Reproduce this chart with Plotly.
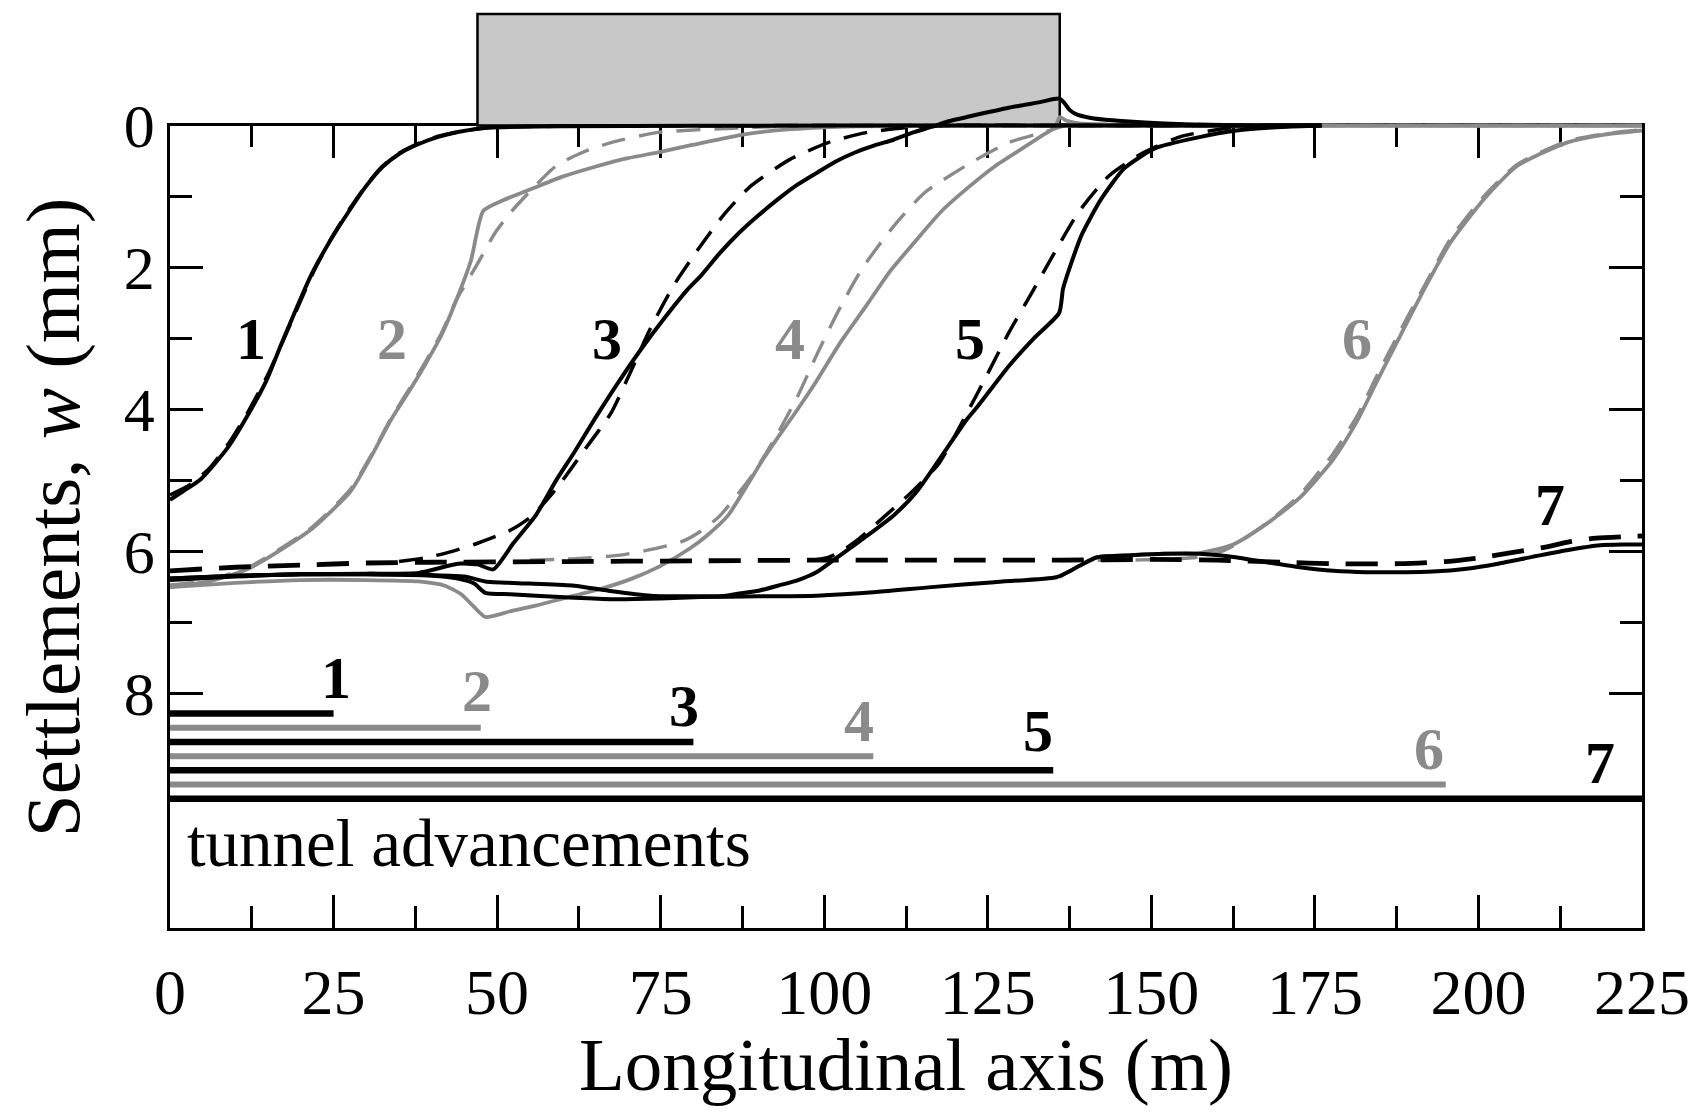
import plotly.graph_objects as go

# ---------------- data: x = longitudinal axis (m), w = settlement (mm) ----------------
C1_SOLID_X = [0, 2, 4.7, 8.8, 11.5, 14.7, 17.1, 21.5, 24.5, 27.4, 30, 32.5, 35, 38, 41, 44, 48.5, 60, 100, 140, 176]
C1_SOLID_W = [5.27, 5.15, 4.98, 4.54, 4.14, 3.6, 3.06, 2.12, 1.62, 1.2, 0.85, 0.58, 0.4, 0.26, 0.16, 0.09, 0.03,
              0.01, 0, 0, 0]
C1_DASH_X = [0, 3, 6, 9, 12, 15, 18, 22, 24.7, 27.4, 30, 32.5, 35, 38, 41, 44, 48.5, 60, 100, 140, 176]
C1_DASH_W = [5.2, 5.06, 4.83, 4.47, 4.02, 3.5, 2.88, 2.05, 1.58, 1.18, 0.84, 0.57, 0.39, 0.25, 0.15, 0.09, 0.03,
             0.01, 0, 0, 0]

C2_SOLID_X = [0, 6, 12, 16.5, 21.8, 27.6, 31, 33.8, 36.5, 39.1, 41.5, 43.8, 46, 47.9, 51, 55.6, 60, 65, 70,
              75, 80, 88, 95, 105, 140, 180, 225]
C2_SOLID_W = [6.5, 6.42, 6.24, 6.0, 5.67, 5.15, 4.62, 4.14, 3.75, 3.35, 2.95, 2.45, 1.9, 1.2, 1.05, 0.88, 0.72,
              0.58, 0.46, 0.37, 0.27, 0.12, 0.05, 0.01, 0, 0, 0]
C2_DASH_X = [0, 6, 12, 16.5, 21.8, 27.6, 31, 33.8, 36.5, 39.1, 41.5, 43.8, 46.8, 49.7, 52, 55.5, 59, 63, 67.4,
             74.4, 88, 100, 140, 180, 225]
C2_DASH_W = [6.47, 6.4, 6.22, 5.98, 5.65, 5.12, 4.6, 4.12, 3.72, 3.32, 2.92, 2.45, 1.98, 1.51, 1.23, 0.88, 0.57,
             0.38, 0.24, 0.1, 0.03, 0.0, 0, 0, 0]

C3_SOLID_X = [0, 10, 20, 30, 38, 44, 47, 49.4, 52.5, 55.9, 59, 61.8, 65, 68.5, 72, 75.5, 79.1, 81.1, 84, 87, 90,
              92.9, 95.8, 98.8, 101.7, 104.7, 107.7, 110.6, 113.5, 116.4, 119, 122.3, 128.2, 133, 135.9, 136.7,
              137.5, 138.5, 140, 143, 146, 152, 158, 165, 176]
C3_SOLID_W = [6.38, 6.34, 6.32, 6.31, 6.3, 6.17, 6.18, 6.25, 5.88, 5.49, 5.0, 4.6, 4.12, 3.62, 3.15, 2.72, 2.31,
              2.12, 1.8, 1.51, 1.26, 1.04, 0.84, 0.67, 0.51, 0.38, 0.28, 0.2, 0.1, 0.02, -0.06, -0.13, -0.25,
              -0.33, -0.38, -0.32, -0.22, -0.16, -0.12, -0.08, -0.06, -0.03, -0.01, 0, 0]
C3_DASH_X = [35, 39.4, 43, 46.5, 52, 55.3, 59, 63.5, 67.4, 70.5, 73.2, 77, 80.9, 84.7, 88.8, 94.7, 100.6, 106.4,
             112.3, 118, 140, 176]
C3_DASH_W = [6.14, 6.08, 6.0, 5.9, 5.7, 5.5, 5.12, 4.55, 4.05, 3.45, 2.9, 2.25, 1.72, 1.25, 0.85, 0.48, 0.24,
             0.1, 0.03, 0, 0, 0]

C4_SOLID_X = [0, 10, 20, 30, 38, 42, 44.5, 46.5, 48.2, 52, 55.9, 61.8, 66, 70.6, 75, 79.4, 82, 85.3, 88, 90.5,
              93, 95.3, 98.8, 102.5, 106.4, 110, 114.1, 118, 122.3, 126, 130, 133, 135.3, 136, 137, 139, 145,
              155, 180, 225]
C4_SOLID_W = [6.5, 6.44, 6.4, 6.4, 6.42, 6.48, 6.6, 6.78, 6.92, 6.84, 6.76, 6.62, 6.52, 6.38, 6.2, 5.96, 5.78,
              5.49, 5.1, 4.72, 4.38, 4.08, 3.6, 3.05, 2.54, 2.06, 1.61, 1.2, 0.85, 0.58, 0.34, 0.16, 0.02, -0.12,
              -0.07, -0.03, -0.01, 0, 0, 0]
C4_DASH_X = [55, 62, 68.8, 73, 78.2, 81, 84, 88.8, 92.5, 96, 99, 102.5, 105.9, 110.6, 115.3, 122.3, 128.2,
             134.1, 137, 180, 225]
C4_DASH_W = [6.12, 6.1, 6.05, 5.98, 5.86, 5.72, 5.5, 4.95, 4.4, 3.8, 3.2, 2.55, 2.0, 1.42, 0.95, 0.53, 0.24,
             0.08, 0, 0, 0]

C5_SOLID_X = [0, 10, 20, 30, 40, 45, 48.2, 55, 61.8, 67, 73.5, 80, 85, 87, 90, 92.9, 96, 98.8, 101.7, 105.9,
              110.6, 114.1, 118.8, 121.7, 123.5, 128.2, 132, 135.9, 136.5, 137.6, 139.4, 142.3, 145.9, 150.6,
              157, 163, 170, 176]
C5_SOLID_W = [6.38, 6.34, 6.32, 6.32, 6.33, 6.35, 6.42, 6.45, 6.48, 6.55, 6.62, 6.63, 6.62, 6.59, 6.55, 6.48,
              6.4, 6.29, 6.1, 5.82, 5.49, 5.16, 4.54, 4.15, 3.95, 3.39, 3.0, 2.64, 2.3, 1.98, 1.53, 1.04, 0.6,
              0.32, 0.17, 0.07, 0.02, 0]
C5_DASH_X = [98, 100.6, 102.5, 105.3, 109.4, 113.5, 117.6, 121.7, 124.5, 128.2, 131.7, 135.2, 138.8, 143.5,
             148.8, 154.7, 162.3, 170, 176]
C5_DASH_W = [6.12, 6.08, 6.0, 5.82, 5.49, 5.15, 4.75, 4.07, 3.58, 2.92, 2.36, 1.79, 1.23, 0.71, 0.38, 0.15,
             0.03, 0, 0]

C6_SOLID_X = [136, 137, 139, 141.7, 147, 152, 157.4, 162.5, 167.6, 172.7, 177.8, 181.4, 184.5, 188.1, 192.2,
              195.7, 200.8, 205.9, 213.5, 219, 225]
C6_SOLID_W = [6.36, 6.3, 6.2, 6.08, 6.05, 6.03, 6.02, 5.9, 5.61, 5.24, 4.7, 4.17, 3.6, 2.95, 2.22, 1.65, 1.04,
              0.57, 0.24, 0.13, 0.07]
C6_DASH_X = [136, 145, 152, 157, 160, 162.5, 167.6, 172.7, 177.8, 181.4, 184.5, 188.1, 192.2, 195.7, 200.8,
             205.9, 213.5, 219, 225]
C6_DASH_W = [6.13, 6.12, 6.11, 6.08, 6.02, 5.92, 5.6, 5.2, 4.62, 4.1, 3.52, 2.88, 2.18, 1.6, 1.0, 0.55, 0.22,
             0.12, 0.06]

C7_SOLID_X = [0, 10, 20, 30, 40, 44, 46.5, 48.2, 52, 55.9, 61.8, 67.6, 75, 81.1, 90, 98.8, 108, 116.4, 126,
              135.5, 137, 139, 141.7, 147, 152, 157.4, 162, 167.6, 172.7, 177.8, 183, 188, 193, 198.2, 203,
              208.4, 213.5, 218.6, 222, 225]
C7_SOLID_W = [6.4, 6.35, 6.32, 6.32, 6.34, 6.38, 6.45, 6.58, 6.6, 6.62, 6.65, 6.67, 6.66, 6.64, 6.63, 6.62,
              6.57, 6.5, 6.43, 6.36, 6.3, 6.2, 6.08, 6.05, 6.03, 6.03, 6.07, 6.15, 6.22, 6.27, 6.29, 6.29, 6.28,
              6.24, 6.17, 6.07, 5.98, 5.91, 5.9, 5.9]
C7_DASH_X = [0, 10, 20, 30, 40, 60, 80, 100, 120, 136, 150, 160, 170, 178, 188, 195, 200, 206, 210, 214, 218,
             222, 225]
C7_DASH_W = [6.27, 6.22, 6.19, 6.16, 6.15, 6.14, 6.13, 6.12, 6.12, 6.12, 6.11, 6.12, 6.15, 6.17, 6.17, 6.14,
             6.09, 6.0, 5.94, 5.86, 5.81, 5.79, 5.78]

STAGES = ["1", "2", "3", "4", "5", "6", "7"]
FACE_POSITIONS = [25, 47.5, 80, 107.5, 135, 195, 225]      # tunnel advancement (m)
BUILDING_X = [47, 136]                                     # building footprint (m)

# ---------------- styles / layout constants ----------------
BLACK = "#000000"
GRAY = "#8a8a8a"
FONT = "Liberation Serif"
YMAX = 11.3
MAIN_DOM_TOP = 0.8751
Y2_TOP = YMAX - YMAX / MAIN_DOM_TOP
BUILDING_TOP = -1.57
BAR_W0, BAR_STEP = 8.28, 0.2
CURVE_LABEL_POS = [(12.35, 3.0), (33.9, 3.0), (66.8, 3.0), (94.8, 3.0), (122.3, 3.0), (181.5, 3.0), (210.9, 5.35)]
BAR_LABEL_POS = [(25.4, 7.78), (46.9, 7.96), (78.5, 8.17), (105.3, 8.38), (132.6, 8.53), (192.4, 8.78), (218.6, 8.97)]

fig = go.Figure()


def add_line(x, w, color, width, dash="solid", xa="x2", ya="y2", shape="spline"):
    fig.add_trace(go.Scatter(x=x, y=w, mode="lines", xaxis=xa, yaxis=ya, showlegend=False,
                             hoverinfo="skip",
                             line=dict(color=color, width=width, dash=dash, shape=shape, smoothing=0.6)))


# tunnel advancement bars (main axes)
for i, (lab, face) in enumerate(zip(STAGES, FACE_POSITIONS)):
    col = BLACK if i % 2 == 0 else GRAY
    wlev = BAR_W0 + i * BAR_STEP
    add_line([0, face], [wlev, wlev], col, 6.5 if i % 2 == 0 else 6, xa="x", ya="y", shape="linear")

CURVE_DASH = "24px,14px"
# gray curves first
add_line(C2_SOLID_X, C2_SOLID_W, GRAY, 3.8)
add_line(C4_SOLID_X, C4_SOLID_W, GRAY, 3.8)
add_line(C6_SOLID_X, C6_SOLID_W, GRAY, 3.8)
add_line(C2_DASH_X, C2_DASH_W, GRAY, 3.4, CURVE_DASH)
add_line(C4_DASH_X, C4_DASH_W, GRAY, 3.4, CURVE_DASH)
add_line(C6_DASH_X, C6_DASH_W, GRAY, 3.4, CURVE_DASH)
# black curves
add_line(C1_SOLID_X, C1_SOLID_W, BLACK, 4)
add_line(C3_SOLID_X, C3_SOLID_W, BLACK, 4)
add_line(C5_SOLID_X, C5_SOLID_W, BLACK, 4)
add_line(C7_SOLID_X, C7_SOLID_W, BLACK, 4)
add_line(C1_DASH_X, C1_DASH_W, BLACK, 3.5, CURVE_DASH)
add_line(C3_DASH_X, C3_DASH_W, BLACK, 3.5, CURVE_DASH)
add_line(C5_DASH_X, C5_DASH_W, BLACK, 3.5, CURVE_DASH)
add_line(C7_DASH_X, C7_DASH_W, BLACK, 4.8, "32px,17px")

annotations = []
for i, lab in enumerate(STAGES):
    col = BLACK if i % 2 == 0 else GRAY
    cx, cw = CURVE_LABEL_POS[i]
    annotations.append(dict(x=cx, y=cw, xref="x2", yref="y2", text="<b>%s</b>" % lab, showarrow=False,
                            font=dict(family=FONT, size=60, color=col), xanchor="center", yanchor="middle"))
    bx, bw = BAR_LABEL_POS[i]
    annotations.append(dict(x=bx, y=bw, xref="x2", yref="y2", text="<b>%s</b>" % lab, showarrow=False,
                            font=dict(family=FONT, size=60, color=col), xanchor="center", yanchor="middle"))

annotations.append(dict(x=2.3, y=10.1, xref="x2", yref="y2", text="tunnel advancements", showarrow=False,
                        font=dict(family=FONT, size=67, color=BLACK), xanchor="left", yanchor="middle"))
annotations.append(dict(x=0.5, y=-0.149, xref="paper", yref="paper", text="Longitudinal axis (m)",
                        showarrow=False, font=dict(family=FONT, size=75, color=BLACK),
                        xanchor="center", yanchor="middle"))
annotations.append(dict(x=-0.0795, y=0.448, xref="paper", yref="paper", text="Settlements, <i>w</i> (mm)",
                        showarrow=False, textangle=-90, font=dict(family=FONT, size=77, color=BLACK),
                        xanchor="center", yanchor="middle"))

fig.add_shape(type="rect", xref="x2", yref="y2", x0=BUILDING_X[0], x1=BUILDING_X[1], y0=0, y1=BUILDING_TOP,
              fillcolor="#c8c8c8", line=dict(color=BLACK, width=2.5), layer="below")

fig.update_layout(
    width=1697, height=1113,
    margin=dict(l=170, r=55, t=11, b=185, autoexpand=False),
    paper_bgcolor="white", plot_bgcolor="rgba(0,0,0,0)",
    font=dict(family=FONT, color=BLACK),
    annotations=annotations,
    xaxis=dict(domain=[0, 1], anchor="y", range=[0, 225], tickmode="linear", tick0=0, dtick=25,
               ticks="inside", ticklen=33, tickwidth=2.5, tickcolor=BLACK, automargin=False,
               minor=dict(tickmode="linear", tick0=0, dtick=12.5, ticks="inside", ticklen=22,
                          tickwidth=2.5, tickcolor=BLACK),
               showline=True, linewidth=2.5, linecolor=BLACK, mirror="ticks", showgrid=False, zeroline=False,
               tickfont=dict(family=FONT, size=64, color=BLACK), ticklabelstandoff=6),
    yaxis=dict(domain=[0, MAIN_DOM_TOP], anchor="x", range=[YMAX, 0], tickmode="array",
               tickvals=[0, 2, 4, 6, 8], ticks="inside", ticklen=33, tickwidth=2.5, tickcolor=BLACK,
               automargin=False,
               minor=dict(tickmode="array", tickvals=[1, 3, 5, 7], ticks="inside", ticklen=22,
                          tickwidth=2.5, tickcolor=BLACK),
               showline=True, linewidth=2.5, linecolor=BLACK, mirror="ticks", showgrid=False, zeroline=False,
               tickfont=dict(family=FONT, size=62, color=BLACK), ticklabelstandoff=0),
    xaxis2=dict(domain=[0, 1], anchor="y2", range=[0, 225], visible=False, showgrid=False, zeroline=False,
                automargin=False),
    yaxis2=dict(domain=[0, 1], anchor="x2", range=[YMAX, Y2_TOP], visible=False, showgrid=False,
                zeroline=False, automargin=False),
)

fig.write_html("out.html")
